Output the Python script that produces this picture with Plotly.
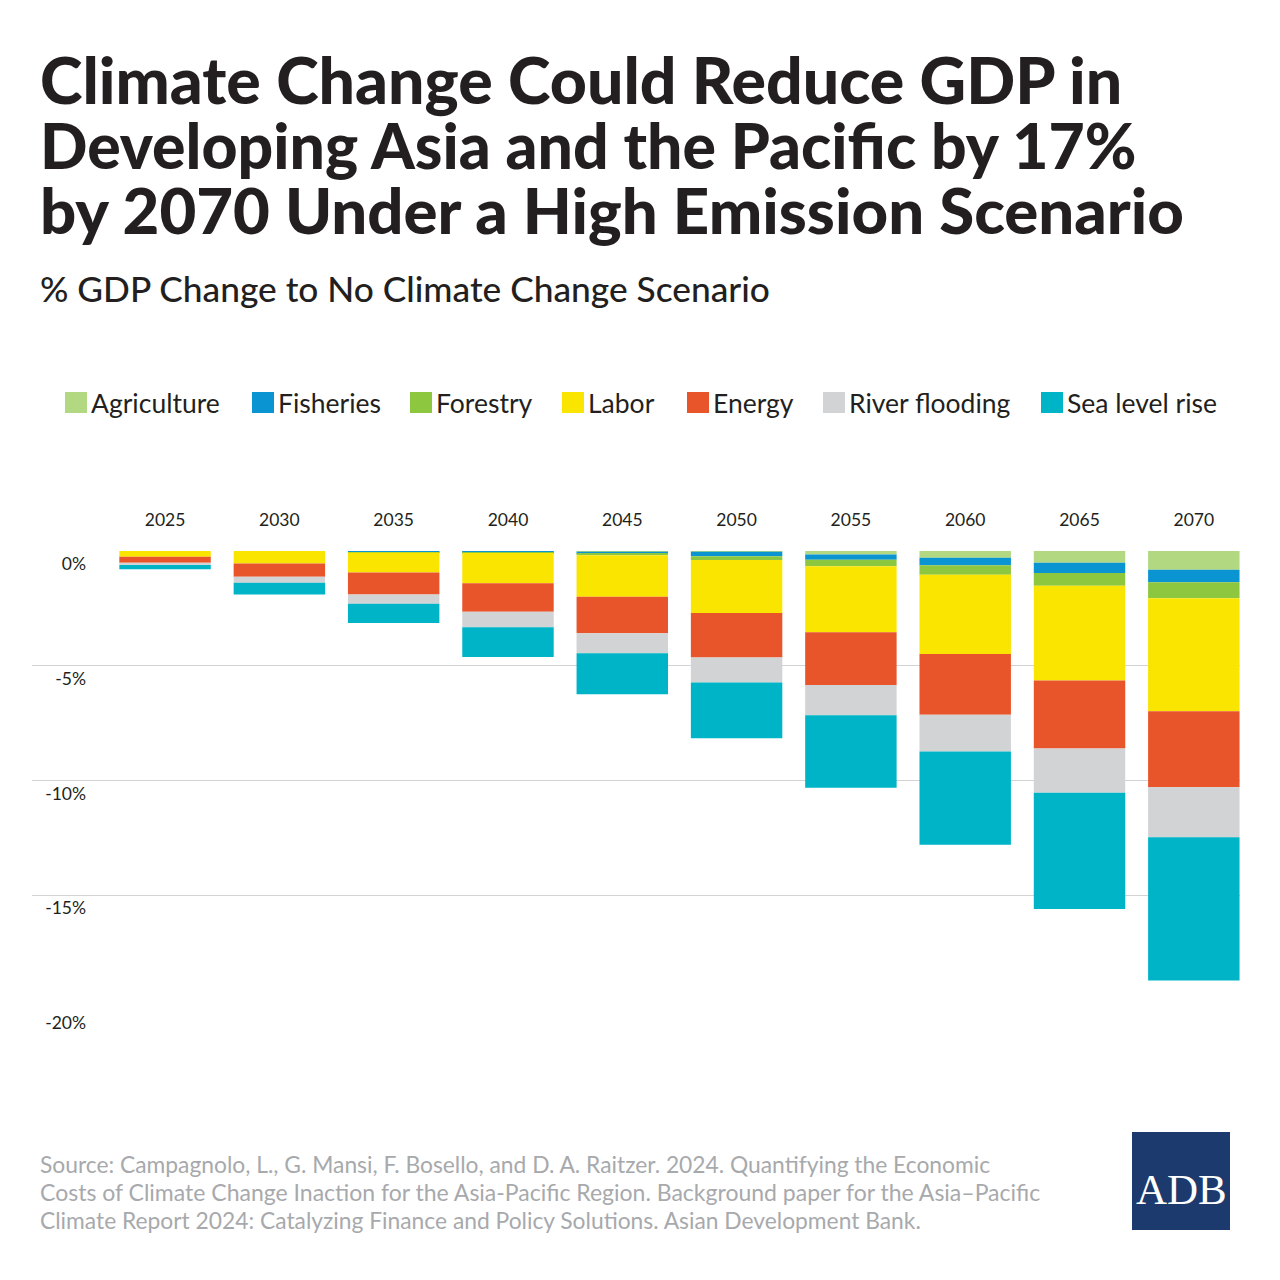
import plotly.graph_objects as go

years = ["2025","2030","2035","2040","2045","2050","2055","2060","2065","2070"]
agriculture = [0, 0, -0.03, -0.03, -0.03, -0.03, -0.15, -0.29, -0.51, -0.82]
fisheries = [0, 0, -0.02, -0.03, -0.10, -0.20, -0.23, -0.33, -0.45, -0.54]
forestry = [0, 0, -0.02, -0.03, -0.06, -0.16, -0.28, -0.41, -0.55, -0.70]
labor = [-0.25, -0.55, -0.87, -1.32, -1.80, -2.31, -2.88, -3.46, -4.13, -4.92]
energy = [-0.26, -0.57, -0.95, -1.24, -1.59, -1.94, -2.30, -2.65, -2.97, -3.31]
river_flooding = [-0.10, -0.26, -0.41, -0.67, -0.87, -1.09, -1.32, -1.60, -1.92, -2.18]
sea_level_rise = [-0.19, -0.51, -0.84, -1.30, -1.79, -2.43, -3.16, -4.06, -5.07, -6.24]

series_names = ["Agriculture","Fisheries","Forestry","Labor","Energy","River flooding","Sea level rise"]
series_values = [agriculture, fisheries, forestry, labor, energy, river_flooding, sea_level_rise]
series_colors = ["#b2d882","#0a94d2","#8dc63f","#fae500","#e9552b","#d1d3d4","#00b4c8"]
y_ticks = [0,-5,-10,-15,-20]
y_labels = ["0%","-5%","-10%","-15%","-20%"]
title_lines = ["Climate Change Could Reduce GDP in","Developing Asia and the Pacific by 17%","by 2070 Under a High Emission Scenario"]
subtitle = "% GDP Change to No Climate Change Scenario"
source_lines = ["Source: Campagnolo, L., G. Mansi, F. Bosello, and D. A. Raitzer. 2024. Quantifying the Economic",
 "Costs of Climate Change Inaction for the Asia-Pacific Region. Background paper for the Asia–Pacific",
 "Climate Report 2024: Catalyzing Finance and Policy Solutions. Asian Development Bank."]
legend_x = [65,252,410,562,687,823,1041]

L,R,T,B = 32,1240,551,1010
px = lambda x:(x-L)/(R-L)
py = lambda y:(B-y)/(B-T)
FONT = "Lato"
INK = "#231f20"

fig = go.Figure()
for n,v,c in zip(series_names,series_values,series_colors):
    fig.add_bar(name=n,x=years,y=v,marker_color=c,marker_line_width=0,width=0.8,showlegend=False)

ann=[];shapes=[]
def text(x,y,s,size,color=INK,family=FONT,anchor="left",weight=None):
    ann.append(dict(xref="paper",yref="paper",x=px(x),y=py(y),text=s,showarrow=False,xanchor=anchor,yanchor="middle",
        font=dict(size=size,color=color,family=family,weight=weight),align="left"))
for y,s,z in zip([79,144,209],title_lines,[64.4,62.5,63.5]):
    text(38,y,s,z,weight=900)
text(38,288,subtitle,35.3,weight=500)
for x,n,c in zip(legend_x,series_names,series_colors):
    shapes.append(dict(type="rect",xref="paper",yref="paper",x0=px(x),x1=px(x+22),y0=py(392),y1=py(413),fillcolor=c,line_width=0))
    text(x+24,403,n,26.5)
for y,s,z in zip([1164,1192,1220],source_lines,[22.8,23,22.8]):
    text(38,y,s,z,color="#a7a9ac")
shapes.append(dict(type="rect",xref="paper",yref="paper",x0=px(1132),x1=px(1230),y0=py(1132),y1=py(1230),fillcolor="#1d3a6e",line_width=0))
text(1181,1189,"ADB",43,color="white",family="Liberation Serif",anchor="center")

fig.update_layout(width=1280,height=1280,margin=dict(l=L,r=1280-R,t=T,b=1280-B,autoexpand=False),
    paper_bgcolor="white",plot_bgcolor="white",barmode="relative",annotations=ann,shapes=shapes,
    font=dict(family=FONT,color=INK),
    xaxis=dict(type="category",side="top",range=[-1.164,9.404],categoryorder="array",categoryarray=years,
        showgrid=False,zeroline=False,showline=False,ticks="",tickfont=dict(size=17.5,color=INK),ticklabelstandoff=21),
    yaxis=dict(range=[-20,0],tickvals=y_ticks,ticktext=y_labels,showgrid=True,gridcolor="#d1d3d4",gridwidth=1,
        zeroline=False,showline=False,ticks="",tickfont=dict(size=17.5,color=INK),
        ticklabelstandoff=-55,ticklabelshift=13,automargin=False))
fig.write_html("out.html",config={"displayModeBar":False},post_script="document.body.style.margin='0';")
